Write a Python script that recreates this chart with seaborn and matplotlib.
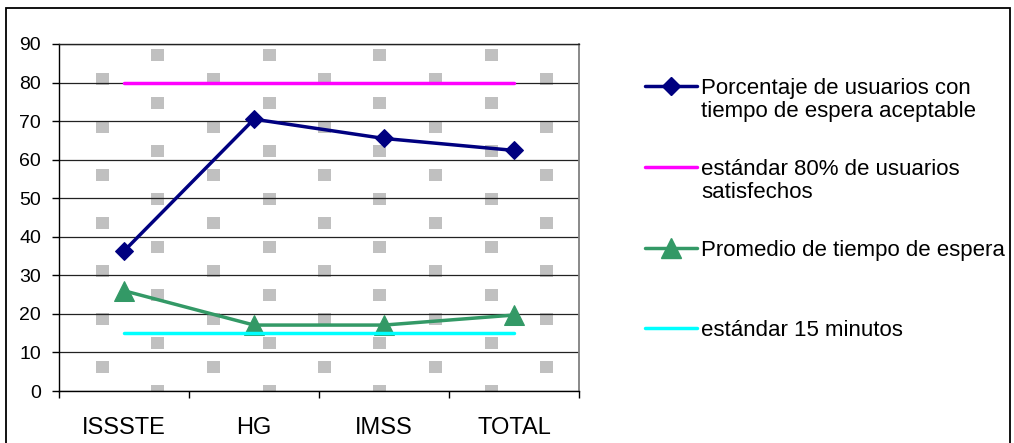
import numpy as np
import pandas as pd
import matplotlib
matplotlib.use('Agg')
import matplotlib.pyplot as plt
import seaborn as sns
from matplotlib.lines import Line2D
from matplotlib.patches import Rectangle

# ---------------- data ----------------
categories = ['ISSSTE', 'HG', 'IMSS', 'TOTAL']
pct_acceptable = [36.3, 70.5, 65.5, 62.4]
standard_80 = [80, 80, 80, 80]
avg_wait = [26.0, 17.1, 17.1, 19.7]
standard_15 = [15, 15, 15, 15]
y_ticks = [0, 10, 20, 30, 40, 50, 60, 70, 80, 90]
legend_labels = [
    ['Porcentaje de usuarios con', 'tiempo de espera aceptable'],
    ['estándar 80% de usuarios', 'satisfechos'],
    ['Promedio de tiempo de espera'],
    ['estándar 15 minutos'],
]

sns.set_style('white')
plt.rcParams['font.family'] = ['Liberation Sans', 'DejaVu Sans']

W, H = 1014, 443
fig = plt.figure(figsize=(W / 100, H / 100), dpi=100)
L, R, T, B = 59, 579, 44, 391
ax = fig.add_axes([L / W, 1 - B / H, (R - L) / W, (B - T) / H])
ax.set_facecolor('white')

# ---------------- background texture ----------------
pw, ph = R - L, B - T
bg = np.ones((ph, pw, 3))
for ci in range(-1, 12):
    x0 = int(round(37 + 55.5 * ci))
    off = 29 if ci % 2 == 0 else 5
    for ri in range(-2, 10):
        y0 = off + 48 * ri
        xs, xe = max(x0, 0), min(x0 + 13, pw)
        ys, ye = max(y0, 0), min(y0 + 12, ph)
        if xe > xs and ye > ys:
            bg[ys:ye, xs:xe] = 0.753

# ---------------- series ----------------
styles = [
    dict(y=pct_acceptable, color='#000080', marker='D', ms=9),
    dict(y=standard_80, color='#FF00FF', marker=None, ms=0),
    dict(y=avg_wait, color='#339966', marker='^', ms=15),
    dict(y=standard_15, color='#00FFFF', marker=None, ms=0),
]
for s in styles:
    kw = dict(color=s['color'], linewidth=2.5, sort=False)
    if s['marker']:
        kw.update(marker=s['marker'], markersize=s['ms'],
                  markeredgecolor=s['color'], markerfacecolor=s['color'])
    sns.lineplot(x=categories, y=s['y'], ax=ax, zorder=3, **kw)

ax.imshow(bg, extent=(-0.5, 3.5, 0, 90), aspect='auto',
          interpolation='nearest', zorder=0)
ax.set_xlim(-0.5, 3.5)
ax.set_ylim(0, 90)

# ticks
ax.set_xticks(range(len(categories)))
ax.set_xticklabels(categories)
ax.set_xticks([-0.5, 0.5, 1.5, 2.5, 3.5], minor=True)
ax.tick_params(axis='x', which='major', bottom=True, length=0, pad=19,
               labelsize=17, labelcolor='black')
ax.tick_params(axis='x', which='minor', bottom=True, length=5, width=1,
               color='black')
ax.set_yticks(y_ticks)
ax.tick_params(axis='y', left=True, length=5, width=1, color='black',
               pad=8, labelsize=14, labelcolor='black')

ax.yaxis.grid(True, color='#222222', linewidth=0.9)
ax.xaxis.grid(False)
ax.set_axisbelow(True)
for side in ['left', 'bottom', 'top']:
    ax.spines[side].set_color('black')
    ax.spines[side].set_linewidth(1)
ax.spines['top'].set_color('#222222')
ax.spines['right'].set_color('#808080')
ax.spines['right'].set_linewidth(1.3)
ax.set_xlabel('')
ax.set_ylabel('')
if ax.get_legend():
    ax.get_legend().remove()

# ---------------- manual legend ----------------
leg_y = [86, 167, 248, 328]
for s, lab, yy in zip(styles, legend_labels, leg_y):
    yf = 1 - yy / H
    ln = Line2D([645 / W, 671 / W, 697 / W], [yf, yf, yf],
                transform=fig.transFigure, color=s['color'], linewidth=2.5)
    if s['marker']:
        ln.set_marker(s['marker'])
        ln.set_markersize(s['ms'])
        ln.set_markevery([1])
        ln.set_markerfacecolor(s['color'])
        ln.set_markeredgecolor(s['color'])
    fig.add_artist(ln)
    for k, line in enumerate(lab):
        fig.text(701 / W, 1 - (yy + 8 + 23 * k) / H, line, fontsize=16,
                 va='baseline', ha='left', color='black')

# outer frame
fig.add_artist(Rectangle((6 / W, -0.1), (1010 - 6) / W, (1 - 8 / H) + 0.1,
                         transform=fig.transFigure, fill=False,
                         edgecolor='black', linewidth=1.3))

fig.savefig('out.png', dpi=100)
